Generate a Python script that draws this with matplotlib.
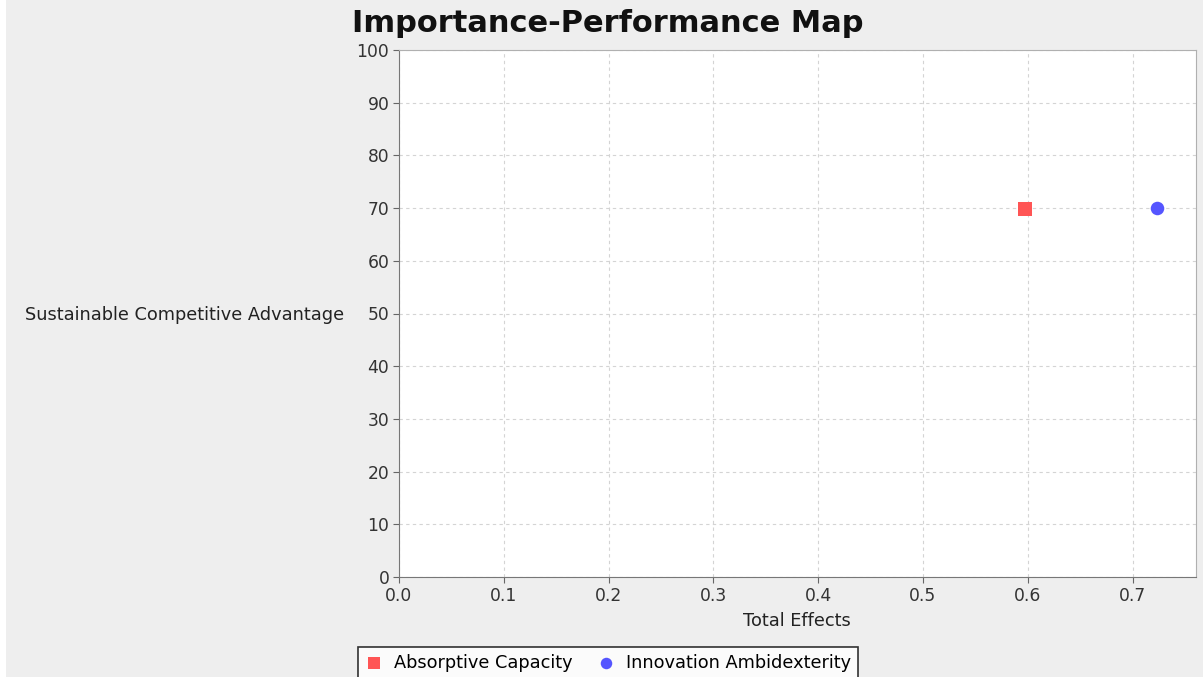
import numpy as np
import matplotlib
matplotlib.use('Agg')
import matplotlib.pyplot as plt
from matplotlib.patches import Rectangle

# constructs: total effect (importance) vs performance
names = ['Absorptive Capacity', 'Innovation Ambidexterity']
total_effects = [0.597, 0.723]
performance = [69.8, 70.0]
colors = ['#ff5555', '#5555ff']
markers = ['s', 'o']

x_ticks = [0.0, 0.1, 0.2, 0.3, 0.4, 0.5, 0.6, 0.7]
y_ticks = [0, 10, 20, 30, 40, 50, 60, 70, 80, 90, 100]

W, H = 1203, 677
fig = plt.figure(figsize=(W / 100, H / 100), dpi=100)
fig.patch.set_facecolor('#eeeeee')
# thin white strip at the left border
fig.patches.append(Rectangle((0, 0), 6 / W, 1, transform=fig.transFigure,
                             facecolor='white', edgecolor='none', zorder=0))

ax = fig.add_axes([399 / W, 1 - 577 / H, 797 / W, 527 / H])
ax.set_facecolor('white')

for n, x, y, c, m in zip(names, total_effects, performance, colors, markers):
    ax.scatter([x], [y], s=95, c=c, marker=m, label=n, zorder=3, linewidths=0)

ax.set_xlim(0, 0.7605)
ax.set_ylim(0, 100)
ax.set_xticks(x_ticks)
ax.set_yticks(y_ticks)
ax.set_xticklabels(['%.1f' % v for v in x_ticks])
ax.set_yticklabels([str(v) for v in y_ticks])
ax.tick_params(direction='out', length=4, width=0.8, color='#666666',
               labelsize=12.3, labelcolor='#333333', pad=3)

ax.grid(True, color='#d4d4d4', linestyle=(0, (3, 3)), linewidth=0.8)
ax.set_axisbelow(True)
for s in ['left', 'bottom']:
    ax.spines[s].set_color('#777777')
for s in ['top', 'right']:
    ax.spines[s].set_color('#b0b0b0')

fig.text(608 / W, 1 - 24 / H, 'Importance-Performance Map', ha='center', va='center',
         fontsize=22, fontweight='bold', color='#111111')
fig.text(344 / W, 1 - 315 / H, 'Sustainable Competitive Advantage', ha='right', va='center',
         fontsize=12.8, color='#222222')
fig.text(797 / W, 1 - 621 / H, 'Total Effects', ha='center', va='center',
         fontsize=12.8, color='#222222')

leg = fig.legend(loc='upper center', bbox_to_anchor=(608 / W, 1 - 647 / H), ncol=2,
                 frameon=True, fancybox=False, edgecolor='black', facecolor='white',
                 prop={'size': 12.8}, handletextpad=0.6, borderaxespad=0,
                 columnspacing=1.4, borderpad=0.4, handlelength=1.0, markerscale=0.85)
leg.get_frame().set_linewidth(1.2)

fig.savefig('out.png', dpi=100, facecolor=fig.get_facecolor())
